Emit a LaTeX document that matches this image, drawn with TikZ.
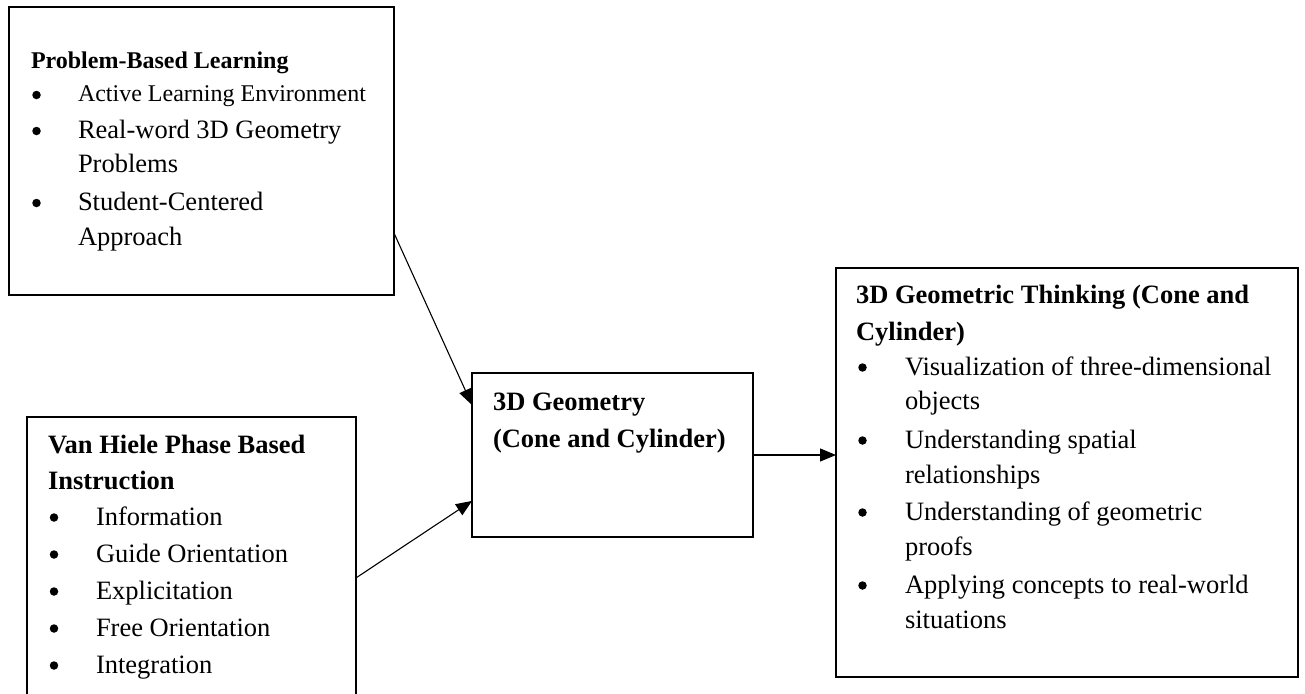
\documentclass[tikz,border=0pt]{standalone}
\usepackage{fontspec}
\setmainfont{Liberation Serif}
\usetikzlibrary{arrows.meta,calc}
\tikzset{
  boxnode/.style={draw=black, line width=2.2pt, fill=none, anchor=north west, inner sep=0pt, outer sep=0pt},
  txt/.style={anchor=base west, inner sep=0pt, outer sep=0pt, font=\fontsize{26.5}{37}\selectfont},
  txtsm/.style={anchor=base west, inner sep=0pt, outer sep=0pt, font=\fontsize{24}{34}\selectfont},
  hd/.style={txt, font=\fontsize{26.5}{37}\selectfont\bfseries},
  hdsm/.style={txtsm, font=\fontsize{24}{34}\selectfont\bfseries},
  bul/.style={circle, fill=black, draw=none, inner sep=0pt, minimum size=8.5pt},
  conn/.style={line width=1.1pt, -{Triangle[length=16pt,width=13pt]}},
}
\begin{document}
\begin{tikzpicture}[x=1pt,y=-1pt]
\clip (0,0) rectangle (1305,693);
\fill[white] (0,0) rectangle (1305,693);

% boxes
\node[boxnode, minimum width=385pt, minimum height=288pt] (pbl) at (9,7) {};
\node[boxnode, minimum width=329pt, minimum height=303pt] (vh) at (27,417) {};
\node[boxnode, minimum width=281pt, minimum height=164pt] (geo) at (472,373) {};
\node[boxnode, minimum width=462pt, minimum height=409pt] (thk) at (836,268) {};

% Problem-Based Learning
\node[hdsm] (pblt) at (31,68) {Problem-Based Learning};
\node[bul] (pblb1) at (36.5,95) {};
\node[txtsm] (pbli1) at (78,101) {Active Learning Environment};
\node[bul] (pblb2) at (36.5,131) {};
\node[txt] (pbli2) at (78,138) {Real-word 3D Geometry};
\node[txt] (pbli2b) at (78,172) {Problems};
\node[bul] (pblb3) at (36.5,203) {};
\node[txt] (pbli3) at (78,210) {Student-Centered};
\node[txt] (pbli3b) at (78,245) {Approach};

% Van Hiele
\node[hd] (vht1) at (48,453) {Van Hiele Phase Based};
\node[hd] (vht2) at (48,489) {Instruction};
\node[bul] (vhb1) at (54,517.5) {};
\node[txt] (vhi1) at (96,525) {Information};
\node[bul] (vhb2) at (54,554.5) {};
\node[txt] (vhi2) at (96,562) {Guide Orientation};
\node[bul] (vhb3) at (54,591.5) {};
\node[txt] (vhi3) at (96,599) {Explicitation};
\node[bul] (vhb4) at (54,628.5) {};
\node[txt] (vhi4) at (96,636) {Free Orientation};
\node[bul] (vhb5) at (54,665.5) {};
\node[txt] (vhi5) at (96,673) {Integration};

% 3D Geometry
\node[hd] (geot1) at (493,410) {3D Geometry};
\node[hd] (geot2) at (493,447) {(Cone and Cylinder)};

% 3D Geometric Thinking
\node[hd] (thkt1) at (856,303) {3D Geometric Thinking (Cone and};
\node[hd] (thkt2) at (856,340) {Cylinder)};
\node[bul] (thkb1) at (862.5,367.5) {};
\node[txt] (thki1) at (905,375) {Visualization of three-dimensional};
\node[txt] (thki1b) at (905,409) {objects};
\node[bul] (thkb2) at (862.5,440.5) {};
\node[txt] (thki2) at (905,448) {Understanding spatial};
\node[txt] (thki2b) at (905,483) {relationships};
\node[bul] (thkb3) at (862.5,512.5) {};
\node[txt] (thki3) at (905,520) {Understanding of geometric};
\node[txt] (thki3b) at (905,555) {proofs};
\node[bul] (thkb4) at (862.5,585.5) {};
\node[txt] (thki4) at (905,593) {Applying concepts to real-world};
\node[txt] (thki4b) at (905,628) {situations};

% connectors
\draw[conn] ($(pbl.south east)!0.215!(pbl.north east)$) -- ($(geo.south west)!0.805!(geo.north west)$);
\draw[conn] ($(vh.south east)!0.469!(vh.north east)$) -- ($(geo.south west)!0.22!(geo.north west)$);
\draw[conn] (geo.east) -- (geo.east -| thk.west);
\end{tikzpicture}
\end{document}
